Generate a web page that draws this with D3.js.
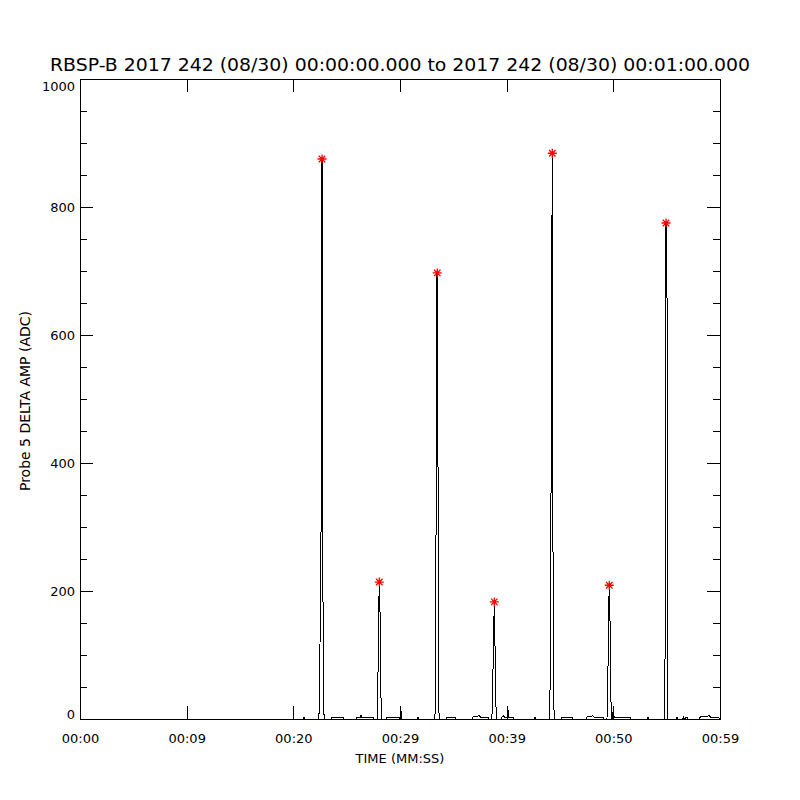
<!DOCTYPE html>
<html>
<head>
<meta charset="utf-8">
<script src="https://cdn.jsdelivr.net/npm/d3@7"></script>
<style>
  body { margin: 0; background: #fff; }
  text { font-family: "DejaVu Sans", sans-serif; fill: #000; }
</style>
</head>
<body>
<div id="chart"></div>
<script>
// probe 5 delta amp samples (seconds from 00:00:00, ADC)
const timeSec = [
  0, 20.90, 21.00, 21.10,
  22.40, 22.50, 22.59, 22.69, 22.78, 22.88,
  23.55, 23.62, 24.66, 24.75,
  25.90, 25.97, 26.30, 26.34, 26.40, 27.47, 27.55,
  27.90, 27.98, 28.06, 28.15, 28.24,
  28.70, 28.78, 29.95, 30.00, 30.07, 30.14,
  31.62, 31.69, 31.76,
  33.26, 33.35, 33.42, 33.49, 33.57, 33.66,
  34.34, 34.41, 34.70, 35.16, 35.24,
  36.77, 36.84, 37.45, 37.55, 38.25, 38.35,
  38.60, 38.66, 38.75, 38.84, 38.93, 39.02,
  39.50, 39.56, 39.70, 39.80, 40.03, 40.10, 40.17, 40.59, 40.66,
  42.60, 42.66, 42.72,
  44.04, 44.13, 44.20, 44.28, 44.36, 44.45,
  45.12, 45.19, 46.13, 46.20,
  47.46, 47.53, 48.10, 48.20, 49.03, 49.10,
  49.40, 49.46, 49.55, 49.62, 49.71, 49.80,
  49.93, 50.00, 50.07, 51.56, 51.63,
  53.18, 53.25, 53.32,
  54.75, 54.84, 54.94, 55.03, 55.08, 55.12,
  55.90, 55.97, 56.03, 56.50, 56.55, 56.60, 56.91, 56.97,
  58.06, 58.13, 59.00, 59.10, 59.81, 60
];
const ampAdc = [
  0, 0, 3, 0,
  0, 116, 256, 875, 186, 0,
  0, 3, 3, 0,
  0, 3, 3, 6, 3, 3, 0,
  0, 150, 214, 150, 0,
  0, 3, 3, 0, 20, 0,
  0, 3, 0,
  0, 28, 690, 697, 366, 0,
  0, 3, 2, 3, 0,
  0, 3, 5, 3, 3, 0,
  0, 17, 108, 183, 91, 0,
  0, 3, 5, 3, 3, 20, 3, 3, 0,
  0, 3, 0,
  0, 172, 614, 884, 116, 0,
  0, 3, 3, 0,
  0, 3, 5, 3, 3, 0,
  0, 17, 159, 209, 136, 0,
  0, 20, 3, 3, 0,
  0, 3, 0,
  0, 53, 775, 670, 287, 0,
  0, 3, 0, 0, 3, 0, 3, 0,
  0, 3, 5, 3, 3, 0
];

// peaks marked with red asterisks
const peakTimes = [22.69, 28.06, 33.49, 38.84, 44.28, 49.62, 54.94];
const peakAmps = [875, 214, 697, 183, 884, 209, 775];

const xTickVals = [0, 10, 20, 30, 40, 50, 60];
const xTickLabels = ["00:00", "00:09", "00:20", "00:29", "00:39", "00:50", "00:59"];
const yTickVals = [0, 200, 400, 600, 800, 1000];

const titleText = "RBSP-B 2017 242 (08/30) 00:00:00.000 to 2017 242 (08/30) 00:01:00.000";

const width = 800, height = 800;
const plotL = 80, plotR = 720, plotT = 79, plotB = 719;

const svg = d3.select("#chart").append("svg")
  .attr("width", width)
  .attr("height", height);

const x = d3.scaleLinear().domain([0, 60]).range([plotL, plotR]);
const y = d3.scaleLinear().domain([0, 1000]).range([plotB, plotT]);

/* data line */
const pts = timeSec.map((t, i) => [t, ampAdc[i]]);
svg.append("path")
  .datum(pts)
  .attr("fill", "none")
  .attr("stroke", "#000")
  .attr("stroke-width", 1)
  .attr("shape-rendering", "crispEdges")
  .attr("d", d3.line().x(d => x(d[0])).y(d => y(d[1])));

/* frame */
svg.append("rect")
  .attr("x", plotL).attr("y", plotT)
  .attr("width", plotR - plotL).attr("height", plotB - plotT)
  .attr("fill", "none").attr("stroke", "#000")
  .attr("shape-rendering", "crispEdges");

/* axes, ticks point inward */
const minorY = d3.range(0, 1001, 50).filter(v => v % 200 != 0);

function styleAxis(g) {
  g.select(".domain").remove();
  g.selectAll("line").attr("shape-rendering", "crispEdges").attr("stroke", "#000");
  g.selectAll("text").attr("font-family", "DejaVu Sans").attr("font-size", 13);
}

svg.append("g")
  .attr("transform", `translate(0,${plotB})`)
  .call(d3.axisBottom(x).tickValues(xTickVals)
    .tickFormat((d, i) => xTickLabels[i]).tickSize(-13).tickPadding(15))
  .call(styleAxis);

svg.append("g")
  .attr("transform", `translate(0,${plotT})`)
  .call(d3.axisTop(x).tickValues(xTickVals).tickFormat("").tickSize(-13))
  .call(styleAxis);

const yAxis = svg.append("g")
  .attr("transform", `translate(${plotL},0)`)
  .call(d3.axisLeft(y).tickValues(yTickVals).tickFormat(d3.format("d"))
    .tickSize(-13).tickPadding(5))
  .call(styleAxis);
// end labels sit inside the frame
yAxis.selectAll(".tick text")
  .attr("dy", d => d == 1000 ? "0.85em" : d == 0 ? "-0.05em" : "0.32em");

svg.append("g")
  .attr("transform", `translate(${plotL},0)`)
  .call(d3.axisLeft(y).tickValues(minorY).tickFormat("").tickSize(-7))
  .call(styleAxis);

svg.append("g")
  .attr("transform", `translate(${plotR},0)`)
  .call(d3.axisRight(y).tickValues(yTickVals).tickFormat("").tickSize(-13))
  .call(styleAxis);

svg.append("g")
  .attr("transform", `translate(${plotR},0)`)
  .call(d3.axisRight(y).tickValues(minorY).tickFormat("").tickSize(-7))
  .call(styleAxis);

/* peak asterisks */
const r = 4.5;
const star = `M${-r},0H${r}M0,${-r}V${r}M${-r * 0.72},${-r * 0.72}L${r * 0.72},${r * 0.72}M${-r * 0.72},${r * 0.72}L${r * 0.72},${-r * 0.72}`;
svg.selectAll(".peak")
  .data(peakTimes)
  .enter()
  .append("path")
    .attr("class", "peak")
    .attr("transform", (d, i) => `translate(${x(d)},${y(peakAmps[i])})`)
    .attr("d", star)
    .attr("fill", "none")
    .attr("stroke", "#ff0000")
    .attr("stroke-width", 1.3);

/* titles */
svg.append("text")
  .attr("x", 400).attr("y", 71)
  .attr("text-anchor", "middle")
  .attr("font-size", 18.5)
  .attr("textLength", 700)
  .attr("lengthAdjust", "spacingAndGlyphs")
  .text(titleText);

svg.append("text")
  .attr("x", 400).attr("y", 763)
  .attr("text-anchor", "middle")
  .attr("font-size", 13)
  .text("TIME (MM:SS)");

svg.append("text")
  .attr("transform", "translate(30,401) rotate(-90)")
  .attr("text-anchor", "middle")
  .attr("font-size", 14)
  .text("Probe 5 DELTA AMP (ADC)");
</script>
</body>
</html>
